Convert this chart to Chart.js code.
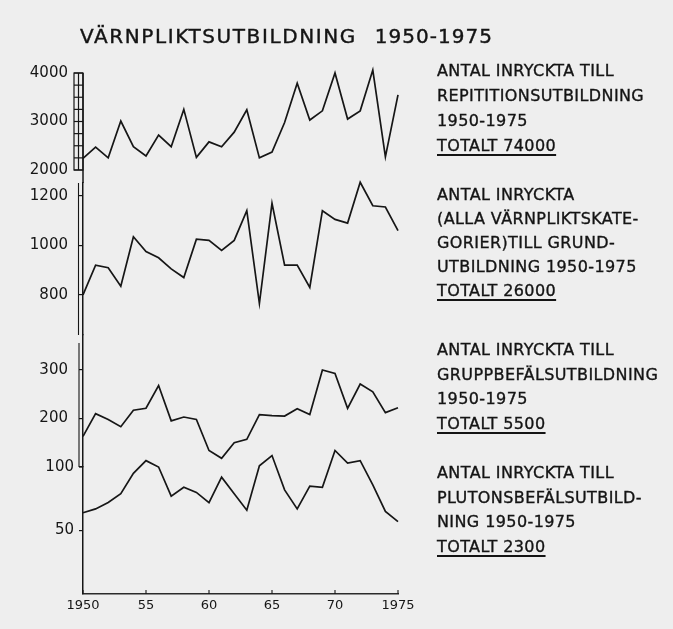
<!DOCTYPE html>
<html lang="sv">
<head>
<meta charset="utf-8">
<title>Värnpliktsutbildning 1950-1975</title>
<script src="https://cdn.jsdelivr.net/npm/chart.js@4/dist/chart.umd.min.js"></script>
<style>
  html, body { margin: 0; padding: 0; background: #eeeeee; }
  #ram { position: relative; width: 673px; height: 629px; overflow: hidden; }
  #graf { position: absolute; left: 0; top: 0; }
  .rubrik {
    position: absolute; left: 80px; top: 26px;
    font: 20px "DejaVu Sans", sans-serif; line-height: 20px;
    letter-spacing: 1.6px; color: #141414; white-space: nowrap;
    -webkit-text-stroke: 0.4px #141414;
  }
  .rubrik span { margin-left: 18px; letter-spacing: 1px; }
  .text {
    position: absolute; left: 437px;
    font: 16px "DejaVu Sans", sans-serif; line-height: 25px;
    letter-spacing: 0.4px; color: #141414; white-space: nowrap;
    -webkit-text-stroke: 0.35px #141414;
  }
  .text u { text-decoration-thickness: 1.8px; text-underline-offset: 3px; }
</style>
</head>
<body>
<div id="ram">
  <canvas id="graf" width="673" height="629"></canvas>
  <div class="rubrik">VÄRNPLIKTSUTBILDNING<span>1950-1975</span></div>
  <div class="text" style="top:58px">ANTAL INRYCKTA TILL<br>REPITITIONSUTBILDNING<br>1950-1975<br><u>TOTALT 74000</u></div>
  <div class="text" style="top:183px; line-height:24px">ANTAL INRYCKTA<br>(ALLA VÄRNPLIKTSKATE-<br>GORIER)TILL GRUND-<br>UTBILDNING 1950-1975<br><u>TOTALT 26000</u></div>
  <div class="text" style="top:338px; line-height:24.7px">ANTAL INRYCKTA TILL<br>GRUPPBEFÄLSUTBILDNING<br>1950-1975<br><u>TOTALT 5500</u></div>
  <div class="text" style="top:461px; line-height:24.7px">ANTAL INRYCKTA TILL<br>PLUTONSBEFÄLSUTBILD-<br>NING 1950-1975<br><u>TOTALT 2300</u></div>
</div>
<script>
// Inryckta per år, 1950-1975
const aar = [1950, 1951, 1952, 1953, 1954, 1955, 1956, 1957, 1958, 1959, 1960, 1961, 1962,
             1963, 1964, 1965, 1966, 1967, 1968, 1969, 1970, 1971, 1972, 1973, 1974, 1975];

const repetition = [2240, 2470, 2250, 3010, 2480, 2290, 2720, 2480, 3250, 2260, 2580, 2480, 2780,
                    3240, 2250, 2370, 2980, 3790, 3030, 3220, 4000, 3050, 3220, 4060, 2270, 3550];
const grundutb = [800, 920, 910, 835, 1035, 975, 950, 905, 870, 1025, 1020, 980, 1020,
                  1140, 765, 1170, 920, 920, 830, 1140, 1105, 1090, 1255, 1160, 1155, 1060];
const gruppbefal = [163, 210, 198, 183, 217, 221, 268, 195, 203, 198, 134, 118, 150,
                    157, 208, 206, 205, 220, 208, 300, 293, 221, 271, 255, 212, 222];
const plutonsbefal = [64, 67, 72, 79, 95, 105, 100, 77, 84, 80, 72, 92, 79,
                      66, 101, 109, 82, 67, 85, 84, 113, 103, 105, 86, 65, 57];

const aarTicks = [1950, 1955, 1960, 1965, 1970, 1975];
const aarEtiketter = ['1950', '55', '60', '65', '70', '1975'];
const repTicks = [2000, 3000, 4000];
const grundTicks = [800, 1000, 1200];
const gruppTicks = [200, 300];
const plutonTicks = [50, 100];

const svart = '#161616';
const typsnitt = { family: 'DejaVu Sans', size: 15 };

const punkter = serie => aar.map((a, i) => ({ x: a, y: serie[i] }));
const fastaTicks = varden => scale => { scale.ticks = varden.map(v => ({ value: v })); };

function yAxel(min, max, ticks, vikt, padding) {
    return {
        type: 'linear',
        position: 'left',
        stack: 'inryckta',
        stackWeight: vikt,
        min: min,
        max: max,
        afterBuildTicks: fastaTicks(ticks),
        afterFit: s => { s.width = 83; },
        border: { display: true, color: svart, width: 1.5 },
        grid: { drawOnChartArea: false, color: svart, tickLength: 4, lineWidth: 1.2 },
        ticks: { color: svart, padding: padding, font: typsnitt, callback: v => String(v) }
    };
}

// Stegen, dubbellinjen och x-axelns små streck
const axelDekor = {
    id: 'axelDekor',
    afterDraw(chart) {
        const { ctx, scales } = chart;
        const rep = scales.yRep;
        const x0 = rep.right;
        const linje = (x1, y1, x2, y2) => {
            ctx.beginPath(); ctx.moveTo(x1, y1); ctx.lineTo(x2, y2); ctx.stroke();
        };
        ctx.save();
        ctx.strokeStyle = svart;
        ctx.lineWidth = 1.2;

        const topp = rep.getPixelForValue(repTicks[repTicks.length - 1]);
        const botten = rep.getPixelForValue(repTicks[0]);
        ctx.strokeRect(x0 - 9, topp, 9, botten - topp);
        linje(x0 - 4.5, topp, x0 - 4.5, botten);
        for (let v = repTicks[0]; v <= repTicks[repTicks.length - 1]; v += 250) {
            const y = rep.getPixelForValue(v);
            linje(x0 - 9, y, x0, y);
        }
        ctx.lineWidth = 1.5;
        linje(x0, topp, x0, rep.bottom);

        ctx.lineWidth = 1.1;
        const grund = scales.yGrund;
        linje(x0 - 4.5, grund.top, x0 - 4.5, grund.bottom);

        const grupp = scales.yGrupp;
        linje(x0 - 4, grupp.top + 8, x0 - 4, grupp.bottom);
        linje(x0 - 4, grupp.bottom, x0, grupp.bottom);

        const xs = scales.x;
        xs.ticks.forEach(t => {
            const px = xs.getPixelForValue(t.value);
            linje(px, xs.top, px, xs.top - 4);
        });
        ctx.restore();
    }
};

const linjeStil = { borderColor: svart, borderWidth: 1.7, pointRadius: 0, tension: 0, fill: false, clip: false };

const config = {
    type: 'line',
    data: {
        datasets: [
            { label: 'Repetitionsutbildning', data: punkter(repetition), yAxisID: 'yRep', ...linjeStil },
            { label: 'Grundutbildning', data: punkter(grundutb), yAxisID: 'yGrund', ...linjeStil },
            { label: 'Gruppbefälsutbildning', data: punkter(gruppbefal), yAxisID: 'yGrupp', ...linjeStil },
            { label: 'Plutonsbefälsutbildning', data: punkter(plutonsbefal), yAxisID: 'yPluton', ...linjeStil }
        ]
    },
    options: {
        responsive: false,
        animation: false,
        layout: { padding: { top: 62, left: 0, right: 275, bottom: 5 } },
        plugins: { legend: { display: false }, tooltip: { enabled: false } },
        scales: {
            x: {
                type: 'linear',
                min: 1950,
                max: 1975,
                afterBuildTicks: fastaTicks(aarTicks),
                afterFit: s => { s.height = 30; },
                border: { display: true, color: '#2a2a2a', width: 1.5 },
                grid: { drawOnChartArea: false, drawTicks: false },
                ticks: {
                    color: svart,
                    padding: 4,
                    maxRotation: 0,
                    font: { family: 'DejaVu Sans', size: 13 },
                    callback: v => aarEtiketter[aarTicks.indexOf(v)]
                }
            },
            yPluton: yAxel(0, 100, plutonTicks, 127, 5),
            yGrupp: yAxel(100, 372, gruppTicks, 132, 11),
            yGrund: yAxel(638, 1252, grundTicks, 152, 11),
            yRep: Object.assign(yAxel(1732, 4227, repTicks, 121, 15), {
                border: { display: false },
                grid: { drawOnChartArea: false, drawTicks: false }
            })
        }
    },
    plugins: [axelDekor]
};

new Chart(document.getElementById('graf'), config);
</script>
</body>
</html>
